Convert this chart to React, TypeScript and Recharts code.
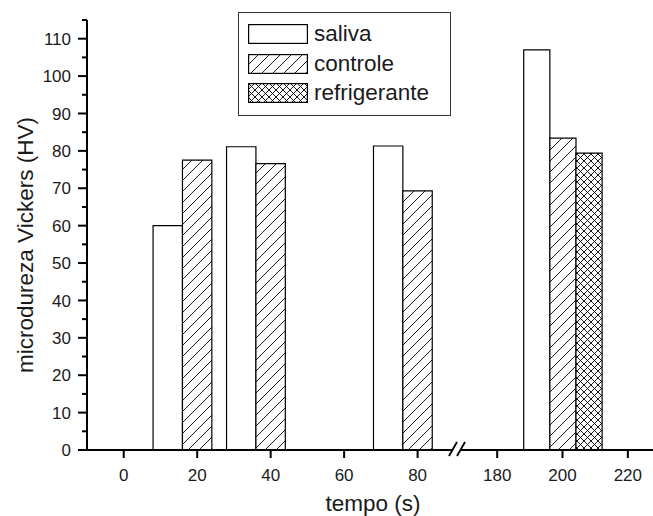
import { ComposedChart, Bar, XAxis, YAxis, Legend } from 'recharts';

// values (HV)
const tempo = [20, 40, 80, 200];
const saliva = [60.0, 81.1, 81.3, 107.0];
const controle = [77.5, 76.6, 69.3, 83.4];
const refrigerante = [null, null, null, 79.4];
const seriesNames = ['saliva', 'controle', 'refrigerante'];

const leftTicks = [0, 20, 40, 60, 80];
const rightTicks = [180, 200, 220];
const yTicks = [0, 5, 10, 15, 20, 25, 30, 35, 40, 45, 50, 55, 60, 65, 70, 75, 80, 85, 90, 95, 100, 105, 110, 115];

const data = tempo.map((t, i) => ({
  tempo: t,
  saliva: saliva[i],
  controle: controle[i],
  refrigerante: refrigerante[i],
}));

// layout
const W = 653;
const H = 516;
const PLOT_TOP = 20;
const PLOT_BOTTOM = 450;
const PLOT_LEFT = 87;
const BREAK_X = 458;
const X_AXIS_H = 30;
const Y_AXIS_W = 60;
const LEFT_DOMAIN: [number, number] = [-10, 91];
const RIGHT_DOMAIN: [number, number] = [168, 227.7];
const Y_DOMAIN: [number, number] = [0, 115];
const BAR_UNITS = 8; // bar width and group offset, in seconds

const FONT = '"Liberation Sans", Arial, sans-serif';
const INK = '#1a1a1a';

const leftBar = (BAR_UNITS * (BREAK_X - PLOT_LEFT)) / (LEFT_DOMAIN[1] - LEFT_DOMAIN[0]);
const rightBar = (BAR_UNITS * (W - BREAK_X)) / (RIGHT_DOMAIN[1] - RIGHT_DOMAIN[0]);

const Patterns = ({ id }: { id: string }) => (
  <defs>
    <pattern id={`${id}-hatch`} patternUnits="userSpaceOnUse" width={11} height={11}>
      <rect width={11} height={11} fill="#fff" />
      <path d="M0,11 L11,0 M-2,2 L2,-2 M9,13 L13,9" stroke="#000" strokeWidth={0.9} />
    </pattern>
    <pattern id={`${id}-cross`} patternUnits="userSpaceOnUse" width={7} height={7}>
      <rect width={7} height={7} fill="#fff" />
      <path d="M0,7 L7,0 M-1,1 L1,-1 M6,8 L8,6 M0,0 L7,7 M-1,6 L1,8 M6,-1 L8,1" stroke="#000" strokeWidth={0.9} />
    </pattern>
  </defs>
);

const YTick = ({ x, y, payload }: any) => {
  const major = payload.value % 10 === 0;
  return (
    <g>
      <line x1={x - (major ? 9 : 5)} x2={x} y1={y} y2={y} stroke="#000" strokeWidth={2} />
      {major && (
        <text x={x - 16} y={y} dy="0.36em" textAnchor="end" fontSize={17} fill={INK} fontFamily={FONT}>
          {payload.value}
        </text>
      )}
    </g>
  );
};

const YTitle = () => {
  const cy = (PLOT_TOP + PLOT_BOTTOM) / 2 + 10;
  return (
    <text transform={`translate(33, ${cy}) rotate(-90)`} textAnchor="middle" fontSize={22.5} fill={INK} fontFamily={FONT}>
      microdureza Vickers (HV)
    </text>
  );
};

const XTitle = () => (
  <text x={(PLOT_LEFT + W) / 2 + 3} y={511} textAnchor="middle" fontSize={22.5} fill={INK} fontFamily={FONT}>
    tempo (s)
  </text>
);

const LegendBox = ({ payload }: any) => {
  const items = seriesNames
    .map((n) => (payload || []).find((p: any) => p.value === n))
    .filter(Boolean);
  return (
    <div
      style={{
        position: 'relative',
        width: 213,
        height: 104,
        boxSizing: 'border-box',
        border: '1.3px solid #333',
        background: '#fff',
        fontFamily: FONT,
      }}
    >
      {items.map((entry: any, i: number) => (
        <div key={entry.value} style={{ position: 'absolute', left: 9, top: 11 + i * 29.5, height: 20, display: 'flex', alignItems: 'center' }}>
          <svg width={60} height={20} style={{ display: 'block' }}>
            <rect x={0.6} y={0.6} width={58.8} height={18.8} fill={entry.color} stroke="#000" strokeWidth={1.2} />
          </svg>
          <span style={{ marginLeft: 6, fontSize: 22.5, lineHeight: '20px', color: INK }}>{entry.value}</span>
        </div>
      ))}
    </div>
  );
};

const axisLine = { stroke: '#000', strokeWidth: 2 };
const tickStyle = { fill: INK, fontSize: 17, fontFamily: FONT };

export default function App() {
  const margin = { top: PLOT_TOP, bottom: H - PLOT_BOTTOM - X_AXIS_H, right: 0 };
  return (
    <div style={{ position: 'absolute', left: 0, top: 0, width: W, height: H, background: '#fff', fontFamily: FONT }}>
      <div style={{ position: 'absolute', left: 0, top: 0 }}>
        <ComposedChart width={BREAK_X} height={H} data={data} barGap={0} margin={{ ...margin, left: PLOT_LEFT - Y_AXIS_W }}>
          <Patterns id="l" />
          <XAxis
            xAxisId="t"
            dataKey="tempo"
            type="number"
            domain={LEFT_DOMAIN}
            allowDataOverflow
            ticks={leftTicks}
            interval={0}
            height={X_AXIS_H}
            axisLine={axisLine}
            tickLine={axisLine}
            tickSize={8}
            tickMargin={11}
            tick={tickStyle}
            label={XTitle}
          />
          <XAxis xAxisId="s" dataKey={(d: any) => d.tempo - BAR_UNITS} type="number" domain={LEFT_DOMAIN} allowDataOverflow hide height={0} />
          <XAxis xAxisId="r" dataKey={(d: any) => d.tempo + BAR_UNITS} type="number" domain={LEFT_DOMAIN} allowDataOverflow hide height={0} />
          <YAxis
            type="number"
            domain={Y_DOMAIN}
            ticks={yTicks}
            interval={0}
            width={Y_AXIS_W}
            axisLine={axisLine}
            tickLine={false}
            tickSize={0}
            tickMargin={0}
            tick={<YTick />}
            label={YTitle}
          />
          <Legend
            layout="vertical"
            align="center"
            verticalAlign="middle"
            content={<LegendBox />}
            wrapperStyle={{ left: 238, top: 12, width: 213, height: 104 }}
          />
          <Bar xAxisId="s" dataKey="saliva" name="saliva" fill="#fff" stroke="#000" strokeWidth={1.2} barSize={leftBar} isAnimationActive={false} />
          <Bar xAxisId="t" dataKey="controle" name="controle" fill="url(#l-hatch)" stroke="#000" strokeWidth={1.2} barSize={leftBar} isAnimationActive={false} />
          <Bar xAxisId="r" dataKey="refrigerante" name="refrigerante" fill="url(#l-cross)" stroke="#000" strokeWidth={1.2} barSize={leftBar} isAnimationActive={false} />
        </ComposedChart>
      </div>
      <div style={{ position: 'absolute', left: BREAK_X, top: 0 }}>
        <ComposedChart width={W - BREAK_X} height={H} data={data} barGap={0} margin={{ ...margin, left: 0 }}>
          <Patterns id="r" />
          <XAxis
            xAxisId="t"
            dataKey="tempo"
            type="number"
            domain={RIGHT_DOMAIN}
            allowDataOverflow
            ticks={rightTicks}
            interval={0}
            height={X_AXIS_H}
            axisLine={axisLine}
            tickLine={axisLine}
            tickSize={8}
            tickMargin={11}
            tick={tickStyle}
          />
          <XAxis xAxisId="s" dataKey={(d: any) => d.tempo - BAR_UNITS} type="number" domain={RIGHT_DOMAIN} allowDataOverflow hide height={0} />
          <XAxis xAxisId="r" dataKey={(d: any) => d.tempo + BAR_UNITS} type="number" domain={RIGHT_DOMAIN} allowDataOverflow hide height={0} />
          <YAxis type="number" domain={Y_DOMAIN} hide />
          <Bar xAxisId="s" dataKey="saliva" fill="#fff" stroke="#000" strokeWidth={1.2} barSize={rightBar} isAnimationActive={false} />
          <Bar xAxisId="t" dataKey="controle" fill="url(#r-hatch)" stroke="#000" strokeWidth={1.2} barSize={rightBar} isAnimationActive={false} />
          <Bar xAxisId="r" dataKey="refrigerante" fill="url(#r-cross)" stroke="#000" strokeWidth={1.2} barSize={rightBar} isAnimationActive={false} />
        </ComposedChart>
      </div>
      {/* axis break marks */}
      <svg width={W} height={H} style={{ position: 'absolute', left: 0, top: 0, pointerEvents: 'none' }}>
        <rect x={453} y={447} width={8} height={5} fill="#fff" />
        <line x1={449} y1={456} x2={457} y2={442} stroke="#000" strokeWidth={1.8} />
        <line x1={457} y1={456} x2={465} y2={442} stroke="#000" strokeWidth={1.8} />
      </svg>
    </div>
  );
}
